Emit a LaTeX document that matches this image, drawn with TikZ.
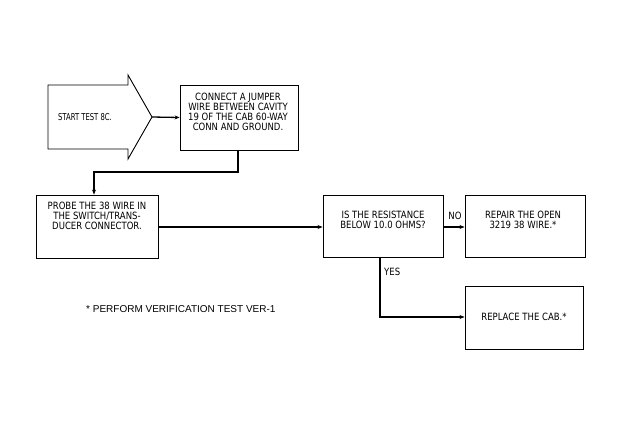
\documentclass[tikz,border=0pt]{standalone}
\usepackage{fontspec}
\newfontfamily\plotfont[FakeStretch=0.85]{DejaVu Sans}
\newfontfamily\narrowfont[FakeStretch=0.72]{DejaVu Sans}
\newfontfamily\notefont{Liberation Sans}
\usetikzlibrary{arrows.meta}
\begin{document}
\begin{tikzpicture}[x=1pt,y=-1pt,
  boxstyle/.style={draw,line width=0.9pt},
  txt/.style={font=\plotfont\fontsize{10}{10}\selectfont,align=center,inner sep=0pt},
  link/.style={line width=1.3pt},
  arr/.style={link,-{Stealth[length=5pt,width=4pt]}}]
\useasboundingbox (0,0) rectangle (623,426);
% start arrow shape
\draw[boxstyle] (48,85) -- (128,85) -- (128,75) -- (152,117) -- (128,159) -- (128,149) -- (48,149) -- cycle;
\node[txt,font=\narrowfont\fontsize{9.5}{10}\selectfont] (start) at (85,117) {START TEST 8C.};
\coordinate (tip) at (152,117);
% boxes
\node[boxstyle,minimum width=118pt,minimum height=65pt,inner sep=0pt] (connect) at (239,117.5) {};
\node[txt] at (238,112) {CONNECT A JUMPER\\WIRE BETWEEN CAVITY\\19 OF THE CAB 60-WAY\\CONN AND GROUND.};
\node[boxstyle,minimum width=122pt,minimum height=63pt,inner sep=0pt] (probe) at (97,226.5) {};
\node[txt] at (97,216) {PROBE THE 38 WIRE IN\\THE SWITCH/TRANS-\\DUCER CONNECTOR.};
\node[boxstyle,minimum width=120pt,minimum height=62pt,inner sep=0pt] (is) at (383,226) {};
\node[txt] at (383,220) {IS THE RESISTANCE\\BELOW 10.0 OHMS?};
\node[boxstyle,minimum width=120pt,minimum height=62pt,inner sep=0pt] (repair) at (525,226) {};
\node[txt] at (523,220) {REPAIR THE OPEN\\3219 38 WIRE.*};
\node[boxstyle,minimum width=118pt,minimum height=63pt,inner sep=0pt] (replace) at (524,317.5) {};
\node[txt] at (524,317) {REPLACE THE CAB.*};
% connectors
\draw[arr] (tip) -- (connect.west);
\coordinate (c1) at (238,172);
\coordinate (c2) at (94,172);
\draw[arr] (connect.south -| c1) -- (c1) -- (c2) -- (probe.north -| c2);
\draw[arr] (probe.east |- 0,227) -- (is.west |- 0,227);
\draw[arr] (is.east |- 0,227) -- (repair.west |- 0,227);
\node[txt] (no) at (455,216) {NO};
\coordinate (y1) at (380,317);
\draw[arr] (is.south -| y1) -- (y1) -- (replace.west |- y1);
\node[txt,anchor=west] (yes) at (384,272) {YES};
% footnote
\node[font=\notefont\fontsize{10}{10}\selectfont,anchor=west,inner sep=0pt] (note) at (86,309) {* PERFORM VERIFICATION TEST VER-1};
\end{tikzpicture}
\end{document}
